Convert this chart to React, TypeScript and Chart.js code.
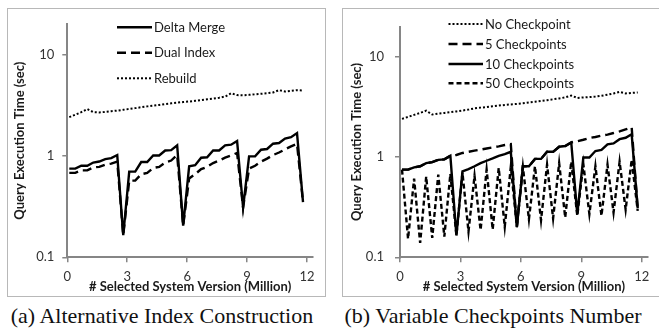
import React, { useEffect, useRef } from "react";
import { Chart, registerables } from "chart.js";

Chart.register(...registerables);

// ---------- data ----------
const versions = [
  0.1, 0.4, 0.7, 1.0, 1.3, 1.6, 1.9, 2.2, 2.5, 2.8,
  3.1, 3.4, 3.7, 4.0, 4.3, 4.6, 4.9, 5.2, 5.5, 5.8,
  6.1, 6.4, 6.7, 7.0, 7.3, 7.6, 7.9, 8.2, 8.5, 8.8,
  9.1, 9.4, 9.7, 10.0, 10.3, 10.6, 10.9, 11.2, 11.5, 11.8,
];

// (a) Alternative Index Construction
const deltaMerge = [
  0.75, 0.75, 0.8, 0.8, 0.86, 0.88, 0.93, 0.95, 1.02, 0.165,
  0.7, 0.7, 0.87, 0.87, 1.01, 1.01, 1.13, 1.14, 1.27, 0.205,
  0.79, 0.81, 0.96, 0.97, 1.13, 1.13, 1.27, 1.29, 1.4, 0.31,
  0.99, 0.99, 1.15, 1.17, 1.32, 1.34, 1.48, 1.53, 1.68, 0.35,
];
const dualIndex = [
  0.68, 0.68, 0.72, 0.72, 0.77, 0.78, 0.82, 0.84, 0.88, 0.165,
  0.57, 0.57, 0.66, 0.68, 0.76, 0.78, 0.86, 0.9, 1.02, 0.205,
  0.6, 0.66, 0.74, 0.78, 0.85, 0.9, 0.96, 1.01, 1.07, 0.31,
  0.75, 0.8, 0.88, 0.94, 1.02, 1.08, 1.16, 1.24, 1.32, 0.35,
];
const rebuild = [
  2.41, 2.55, 2.7, 2.9, 2.7, 2.68, 2.72, 2.76, 2.8, 2.85,
  2.9, 2.96, 3.02, 3.08, 3.13, 3.18, 3.25, 3.3, 3.35, 3.4,
  3.44, 3.5, 3.56, 3.62, 3.68, 3.75, 3.85, 4.15, 3.98, 3.96,
  4.0, 4.05, 4.1, 4.15, 4.22, 4.45, 4.32, 4.38, 4.45, 4.42,
];

// (b) Variable Checkpoints Number
const noCheckpoint = [
  2.41, 2.52, 2.64, 2.76, 2.91, 2.66, 2.72, 2.76, 2.81, 2.86,
  2.92, 2.98, 3.07, 3.12, 3.16, 3.22, 3.27, 3.32, 3.36, 3.4,
  3.45, 3.52, 3.58, 3.64, 3.7, 3.78, 3.85, 3.95, 4.12, 3.9,
  3.94, 3.98, 4.02, 4.1, 4.2, 4.32, 4.48, 4.32, 4.38, 4.42,
];
const fiveCheckpoints = [
  0.75, 0.75, 0.79, 0.81, 0.87, 0.89, 0.94, 0.95, 1.03, 1.05,
  1.1, 1.13, 1.16, 1.19, 1.22, 1.25, 1.28, 1.32, 1.35, 0.2,
  0.81, 0.81, 0.96, 0.96, 1.13, 1.13, 1.27, 1.29, 1.4, 1.44,
  1.49, 1.55, 1.59, 1.64, 1.68, 1.74, 1.81, 1.89, 1.98, 0.3,
];
const tenCheckpoints = [
  0.75, 0.75, 0.79, 0.81, 0.87, 0.89, 0.94, 0.95, 1.03, 0.165,
  0.72, 0.76, 0.81, 0.87, 0.92, 0.97, 1.03, 1.07, 1.13, 0.2,
  0.81, 0.81, 0.96, 0.96, 1.13, 1.13, 1.27, 1.29, 1.4, 0.27,
  0.99, 0.99, 1.15, 1.18, 1.34, 1.37, 1.51, 1.56, 1.69, 0.31,
];
const fiftyCheckpoints = [
  0.75, 0.153, 0.61, 0.139, 0.64, 0.156, 0.67, 0.161, 0.68, 0.165,
  0.7, 0.181, 0.65, 0.187, 0.75, 0.19, 0.78, 0.202, 0.8, 0.205,
  0.8, 0.24, 0.81, 0.235, 0.84, 0.245, 0.87, 0.25, 0.9, 0.26,
  0.85, 0.27, 0.81, 0.26, 0.84, 0.28, 0.9, 0.3, 0.94, 0.29,
];

const xTickValues = [0, 3, 6, 9, 12];
const yTickValues = [0.1, 1, 10];

const xTitle = "# Selected System Version (Million)";
const yTitle = "Query Execution Time (sec)";

// ---------- rendering ----------
const FONT = "Lato, 'Open Sans', 'DejaVu Sans', sans-serif";
const AXIS = "#868686";

const pts = (vals: number[]) => versions.map((x, i) => ({ x, y: vals[i] }));

const lineLegend = {
  id: "lineLegend",
  afterDraw(chart: any, _args: any, opts: any) {
    if (!opts || !opts.items) return;
    const ctx = chart.ctx;
    ctx.save();
    chart.data.datasets.forEach((ds: any, i: number) => {
      const y = opts.ys[i];
      ctx.beginPath();
      ctx.setLineDash(ds.borderDash || []);
      ctx.lineWidth = ds.borderWidth;
      ctx.strokeStyle = ds.borderColor;
      ctx.lineCap = "butt";
      ctx.moveTo(opts.x0, y);
      ctx.lineTo(opts.x1, y);
      ctx.stroke();
      ctx.setLineDash([]);
      ctx.fillStyle = "#1a1a1a";
      ctx.font = `13px ${FONT}`;
      ctx.textBaseline = "middle";
      ctx.textAlign = "left";
      ctx.fillText(ds.label, opts.tx, y + 0.5);
    });
    ctx.restore();
  },
};

type Props = {
  datasets: any[];
  left: number;
  top: number;
  width: number;
  height: number;
  legend: any;
  yAxisWidth: number;
  xAxisHeight: number;
  padding: any;
  yLabelPad: number;
  yTitlePad: number;
};

function LogChart(p: Props) {
  const ref = useRef<HTMLCanvasElement | null>(null);
  useEffect(() => {
    if (!ref.current) return;
    const chart = new Chart(ref.current, {
      type: "line",
      data: { datasets: p.datasets },
      options: {
        animation: false,
        responsive: false,
        devicePixelRatio: 1,
        layout: { padding: p.padding },
        elements: { point: { radius: 0 }, line: { tension: 0 } },
        plugins: {
          legend: { display: false },
          tooltip: { enabled: false },
          lineLegend: p.legend,
        } as any,
        scales: {
          x: {
            type: "linear",
            min: 0,
            max: 12.3,
            afterBuildTicks: (s: any) => {
              s.ticks = xTickValues.map((v) => ({ value: v }));
            },
            afterFit: (s: any) => {
              s.height = p.xAxisHeight;
            },
            ticks: {
              font: { family: FONT, size: 13 },
              color: "#333",
              padding: 7,
              maxRotation: 0,
              callback: (v: any) => String(v),
            },
            grid: {
              drawOnChartArea: false,
              drawTicks: true,
              tickLength: 5,
              color: AXIS,
              lineWidth: 1.5,
            },
            border: { display: true, color: AXIS, width: 2 },
            title: {
              display: true,
              text: xTitle,
              font: { family: FONT, size: 13, weight: "bold" },
              color: "#1a1a1a",
              padding: 3,
            },
          },
          y: {
            type: "logarithmic",
            min: 0.1,
            max: 20,
            afterBuildTicks: (s: any) => {
              s.ticks = yTickValues.map((v) => ({ value: v }));
            },
            afterFit: (s: any) => {
              s.width = p.yAxisWidth;
            },
            ticks: {
              font: { family: FONT, size: 13 },
              color: "#333",
              padding: p.yLabelPad,
              callback: (v: any) => String(v),
            },
            grid: {
              drawOnChartArea: false,
              drawTicks: true,
              tickLength: 5,
              color: AXIS,
              lineWidth: 1.5,
            },
            border: { display: true, color: AXIS, width: 2 },
            title: {
              display: true,
              text: yTitle,
              font: { family: FONT, size: 13, weight: "bold" },
              color: "#1a1a1a",
              padding: p.yTitlePad,
            },
          },
        },
      } as any,
      plugins: [lineLegend],
    });
    return () => chart.destroy();
  }, []);
  return (
    <canvas
      ref={ref}
      width={p.width}
      height={p.height}
      style={{ position: "absolute", left: p.left, top: p.top, width: p.width, height: p.height }}
    />
  );
}

const ds = (label: string, vals: number[], dash: number[], width: number, order: number) => ({
  label,
  data: pts(vals),
  borderColor: "#000",
  backgroundColor: "#000",
  borderWidth: width,
  borderDash: dash,
  fill: false,
  order,
});

export default function App() {
  const leftSets = [
    ds("Delta Merge", deltaMerge, [], 2.4, 0),
    ds("Dual Index", dualIndex, [9, 5], 2.4, 1),
    ds("Rebuild", rebuild, [2, 2], 2, 2),
  ];
  const rightSets = [
    ds("No Checkpoint", noCheckpoint, [2, 2], 2, 3),
    ds("5 Checkpoints", fiveCheckpoints, [9, 5], 2.4, 2),
    ds("10 Checkpoints", tenCheckpoints, [], 2.4, 0),
    ds("50 Checkpoints", fiftyCheckpoints, [5, 3], 2.4, 1),
  ];
  const caption: React.CSSProperties = {
    position: "absolute",
    top: 304.5,
    fontFamily: "'Liberation Serif', 'Times New Roman', serif",
    fontSize: 22,
    lineHeight: "22px",
    color: "#111",
    textAlign: "center",
    whiteSpace: "nowrap",
  };
  return (
    <div
      style={{
        position: "absolute",
        left: 0,
        top: 0,
        width: 659,
        height: 331,
        overflow: "hidden",
        background: "#fff",
      }}
    >
      <div
        style={{
          position: "absolute",
          left: 7,
          top: 8,
          width: 319,
          height: 289,
          border: "1px solid #b8b8b8",
          boxSizing: "border-box",
        }}
      />
      <div
        style={{
          position: "absolute",
          left: 342,
          top: 8,
          width: 330,
          height: 289,
          border: "1px solid #b8b8b8",
          boxSizing: "border-box",
        }}
      />
      <LogChart
        datasets={leftSets}
        left={7}
        top={8}
        width={319}
        height={290}
        padding={{ top: 16, right: 13, left: 0, bottom: 0 }}
        yAxisWidth={60.3}
        xAxisHeight={40.7}
        yLabelPad={8}
        yTitlePad={5}
        legend={{ items: true, x0: 110, x1: 145, tx: 147, ys: [19.3, 44.7, 70.3] }}
      />
      <LogChart
        datasets={rightSets}
        left={342}
        top={8}
        width={317}
        height={290}
        padding={{ top: 16, right: 11.2, left: 0, bottom: 0 }}
        yAxisWidth={58}
        xAxisHeight={40.7}
        yLabelPad={11}
        yTitlePad={7}
        legend={{ items: true, x0: 106.5, x1: 141, tx: 143, ys: [16, 36, 56, 75.3] }}
      />
      <div style={{ ...caption, left: 2, width: 320 }}>(a) Alternative Index Construction</div>
      <div style={{ ...caption, left: 342, width: 302 }}>(b) Variable Checkpoints Number</div>
    </div>
  );
}
